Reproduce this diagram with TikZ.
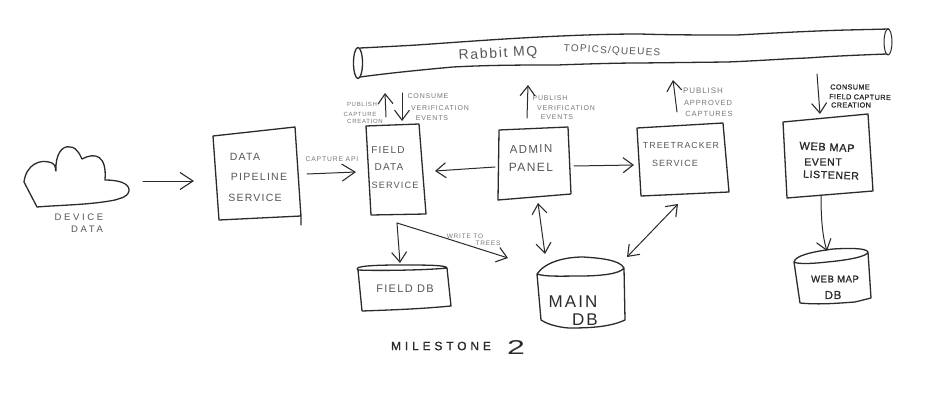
\documentclass[tikz,border=0pt]{standalone}
\usepackage{fontspec}
\setmainfont{Liberation Sans}
\newfontfamily\handfont[LetterSpace=12]{Liberation Sans}
\newfontfamily\handwide[LetterSpace=28]{Liberation Sans}
\newfontfamily\handbold[LetterSpace=6,FakeBold=1.2]{Liberation Sans}
\newfontfamily\handboldwide[LetterSpace=32,FakeBold=1.2]{Liberation Sans}
\usetikzlibrary{arrows.meta}
\definecolor{ink}{HTML}{2B2B2B}
\definecolor{pencil}{HTML}{555555}
\definecolor{faint}{HTML}{777777}
\tikzset{
  sketch/.style={draw=ink,line width=1pt,line join=round,line cap=round},
  thick sketch/.style={sketch,line width=1.3pt},
  barb/.style={sketch,-{Straight Barb[length=10pt,width=15pt,line width=1.1pt]}},
  bigbarb/.style={sketch,-{Straight Barb[length=13pt,width=17pt,line width=1.1pt]}},
  bibarb/.style={sketch,{Straight Barb[length=10pt,width=15pt,line width=1.1pt]}-{Straight Barb[length=10pt,width=15pt,line width=1.1pt]}},
  boxlabel/.style={text=pencil,font=\handfont\fontsize{10}{10}\selectfont,inner sep=0pt},
  tiny/.style={text=faint,font=\handfont\fontsize{6}{6}\selectfont,inner sep=0pt},
  small/.style={text=faint,font=\handfont\fontsize{7}{7}\selectfont,inner sep=0pt},
  inklabel/.style={text=ink,font=\handbold\fontsize{11}{11}\selectfont,inner sep=0pt},
  inktiny/.style={text=ink,font=\handbold\fontsize{7.2}{7.2}\selectfont,inner sep=0pt},
}
\begin{document}
\begin{tikzpicture}[x=1pt,y=-1pt]
\useasboundingbox (0,0) rectangle (951,412);
% pipe
\draw[thick sketch] (360,48) .. controls (380,47) and (400,46) .. (417,45) .. controls (460,42) and (500,39) .. (540,37) .. controls (580,35) and (610,34) .. (640,34) .. controls (670,35) and (705,35) .. (737,35) .. controls (775,33) and (810,31) .. (847,30) -- (889,29);
\draw[thick sketch] (360,77) .. controls (390,73) and (420,70) .. (453,67) .. controls (490,65) and (525,65) .. (557,65) .. controls (585,64) and (615,63) .. (640,63) -- (727,62) .. controls (755,61) and (780,59) .. (807,58) .. controls (835,56) and (860,55) .. (887,54);
\draw[thick sketch] (358,63) ellipse [x radius=4.5,y radius=15.5];
\draw[sketch] (888,42) ellipse [x radius=4,y radius=13];
\node[boxlabel,font=\handfont\fontsize{14}{14}\selectfont,rotate=3] (rabbit) at (498,54) {Rabbit MQ};
\node[boxlabel,rotate=-3] (topics) at (612,51) {TOPICS/QUEUES};
% cloud
\draw[thick sketch] (37,207) -- (24,182) .. controls (26,165) and (40,158) .. (52,163) .. controls (57,165) and (55,172) .. (56,171) .. controls (55,155) and (62,145) .. (70,147) .. controls (78,147) and (81,158) .. (82,159) .. controls (95,152) and (107,155) .. (105,180) .. controls (118,180) and (130,183) .. (129,191) .. controls (127,198) and (120,198) .. (115,200) .. controls (90,205) and (60,205) .. (37,207);
\node[boxlabel,font=\handwide\fontsize{9.5}{9.5}\selectfont] (devicea) at (79,217) {DEVICE};
\node[boxlabel,font=\handwide\fontsize{9.5}{9.5}\selectfont] (deviceb) at (87,229) {DATA};
\coordinate (cloudout) at (143,181);
% pipeline
\draw[thick sketch] (213,136) -- (295,127) -- (301,217) (301,225) -- (301,214) (219,220) -- (301,216) (219,220) -- (213,136);
\node[boxlabel,font=\handfont\fontsize{10.5}{10.5}\selectfont] (pa) at (245,157) {DATA};
\node[boxlabel,font=\handfont\fontsize{10.5}{10.5}\selectfont] (pb) at (259,177) {PIPELINE};
\node[boxlabel,font=\handfont\fontsize{10.5}{10.5}\selectfont] (pc) at (255,198) {SERVICE};
\coordinate (pipein) at (194,181);
\coordinate (pipeout) at (307,174);
\node[tiny,font=\handfont\fontsize{6.8}{6.8}\selectfont] (capapi) at (332,159) {CAPTURE API};
% field
\draw[thick sketch] (366,126) -- (419,124) -- (426,214) -- (371,215) -- cycle;
\node[boxlabel] (fa) at (388,150) {FIELD};
\node[boxlabel] (fb) at (389,167) {DATA};
\node[boxlabel,font=\handfont\fontsize{9.2}{9.2}\selectfont] (fc) at (395,185) {SERVICE};
\coordinate (fieldin) at (356,172);
\coordinate (fieldadmin) at (435,171);
\coordinate (fieldup) at (386,117);
\coordinate (pipeA) at (385,93);
\coordinate (pipeB) at (402,93);
\coordinate (fielddown) at (402,121);
\coordinate (fieldout) at (397,223);
\node[tiny] (l1) at (362,104) {PUBLISH};
\node[tiny] (l2) at (360,114) {CAPTURE};
\node[tiny] (l3) at (365,121) {CREATION};
\node[small] (l4) at (428,96) {CONSUME};
\node[small] (l5) at (440,108) {VERIFICATION};
\node[small] (l6) at (432,118) {EVENTS};
% admin
\draw[thick sketch] (499,130) -- (568,127) -- (571,194) -- (498,200) -- cycle;
\node[boxlabel,font=\handfont\fontsize{11.5}{11.5}\selectfont,rotate=1] (aa) at (531,149) {ADMIN};
\node[boxlabel,font=\handfont\fontsize{12}{12}\selectfont] (ab) at (531,167) {PANEL};
\coordinate (adminleft) at (495,167);
\coordinate (adminright) at (574,166);
\coordinate (adminup) at (527,118);
\coordinate (pipeC) at (528,85);
\coordinate (admindown) at (538,203);
\node[small] (l7) at (550,98) {PUBLISH};
\node[small] (l8) at (566,108) {VERIFICATION};
\node[small] (l9) at (557,117) {EVENTS};
% treetracker
\draw[thick sketch] (637,128) -- (723,123) -- (729,192) -- (641,196) -- cycle;
\node[boxlabel,font=\handfont\fontsize{8.8}{8.8}\selectfont] (ta) at (681,145) {TREETRACKER};
\node[boxlabel,font=\handfont\fontsize{9}{9}\selectfont] (tb) at (675,163) {SERVICE};
\coordinate (treein) at (634,165);
\coordinate (treeup) at (677,112);
\coordinate (pipeD) at (673,80);
\coordinate (treedown) at (678,204);
\node[small,font=\handfont\fontsize{8}{8}\selectfont] (l10) at (703,91) {PUBLISH};
\node[small,font=\handfont\fontsize{7.5}{7.5}\selectfont] (l11) at (708,103) {APPROVED};
\node[small,font=\handfont\fontsize{7.5}{7.5}\selectfont] (l12) at (709,114) {CAPTURES};
% web map
\draw[thick sketch] (783,122) -- (868,114) -- (873,191) -- (787,198) -- cycle;
\node[inklabel,rotate=-3] (wa) at (827,147) {WEB MAP};
\node[inklabel,font=\handbold\fontsize{10.5}{10.5}\selectfont] (wb) at (823,162) {EVENT};
\node[inklabel,font=\handbold\fontsize{10.5}{10.5}\selectfont,rotate=-2] (wc) at (831,175) {LISTENER};
\coordinate (pipeE) at (817,74);
\coordinate (webin) at (820,114);
\coordinate (webout) at (821,195);
\node[inktiny] (l13) at (850,87) {CONSUME};
\node[inktiny,rotate=-1] (l14) at (860,97) {FIELD CAPTURE};
\node[inktiny] (l15) at (851,105) {CREATION};
% field db
\draw[thick sketch] (358,270) .. controls (352,266) and (375,265) .. (400,265) .. controls (425,265) and (447,265) .. (447,268) .. controls (430,270) and (380,271) .. (358,270) -- (362,311) .. controls (390,310) and (420,309) .. (451,306) -- (447,268);
\node[boxlabel,font=\handfont\fontsize{11}{11}\selectfont] (fdb) at (405,289) {FIELD DB};
\coordinate (fdbin) at (400,263);
\node[tiny,font=\handfont\fontsize{6.5}{6.5}\selectfont] (wr1) at (465,236) {WRITE TO};
\node[tiny,font=\handfont\fontsize{6.5}{6.5}\selectfont] (wr2) at (488,243) {TREES};
\coordinate (fieldmid) at (442,237);
\coordinate (maininA) at (508,258);
% main db
\draw[thick sketch] (537,274) .. controls (545,262) and (565,257) .. (583,257) .. controls (600,258) and (620,260) .. (624,268) .. controls (620,274) and (600,276) .. (580,276) .. controls (565,276) and (545,277) .. (537,274) -- (541,320) .. controls (550,326) and (565,328) .. (570,328) .. controls (590,328) and (610,327) .. (625,320) -- (624,268);
\node[text=ink,font=\handfont\fontsize{17}{17}\selectfont,inner sep=0pt] (ma) at (573,302) {MAIN};
\node[text=ink,font=\handfont\fontsize{17}{17}\selectfont,inner sep=0pt] (mb) at (585,320) {DB};
\coordinate (mainB) at (545,254);
\coordinate (mainC) at (627,257);
% web map db
\draw[thick sketch] (794,262) .. controls (795,256) and (810,252) .. (833,249) .. controls (850,248) and (866,248) .. (868,252) .. controls (868,256) and (850,260) .. (827,262) .. controls (810,264) and (797,264) .. (794,262) -- (800,303) .. controls (820,305) and (840,303) .. (855,302) -- (871,298) -- (868,252);
\node[inklabel,font=\handbold\fontsize{9.5}{9.5}\selectfont] (wda) at (835,279) {WEB MAP};
\node[inklabel,font=\handbold\fontsize{11.5}{11.5}\selectfont] (wdb) at (833,295) {DB};
\coordinate (wdbin) at (827,251);
% title
\node[text=ink,font=\handboldwide\fontsize{12}{12}\selectfont,inner sep=0pt] (ms) at (441,346) {MILESTONE};
\node[text=ink,font=\fontsize{20}{20}\selectfont,inner sep=0pt] (ms2) at (516,348) {\scalebox{1.6}[1]{2}};
% connectors
\draw[bigbarb] (cloudout) -- (pipein);
\draw[bigbarb] (pipeout) -- (fieldin);
\draw[barb] (fieldup) -- (pipeA);
\draw[barb] (pipeB) -- (fielddown);
\draw[barb] (adminup) -- (pipeC);
\draw[barb] (treeup) -- (pipeD);
\draw[barb] (pipeE) -- (webin);
\draw[barb] (adminleft) -- (fieldadmin);
\draw[barb] (adminright) -- (treein);
\draw[bibarb] (admindown) -- (mainB);
\draw[bibarb] (treedown) -- (mainC);
\draw[barb] (fieldout) -- (fdbin);
\draw[barb] (fieldout) -- (fieldmid) -- (maininA);
\draw[barb] (webout) .. controls (821,215) and (822,235) .. (wdbin);
\end{tikzpicture}
\end{document}
